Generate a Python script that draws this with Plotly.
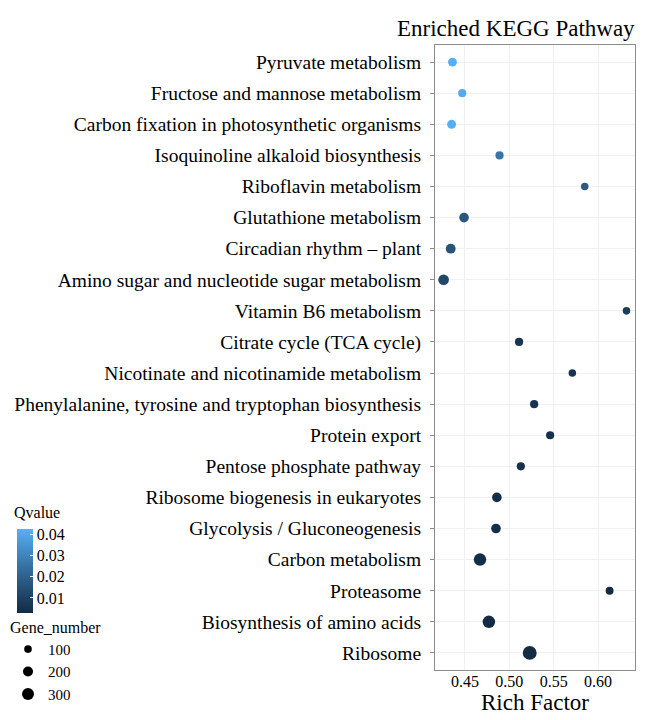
import numpy as np
import plotly.graph_objects as go

# ---------------- data (top -> bottom as in the chart) ----------------
pathways = [
    "Pyruvate metabolism",
    "Fructose and mannose metabolism",
    "Carbon fixation in photosynthetic organisms",
    "Isoquinoline alkaloid biosynthesis",
    "Riboflavin metabolism",
    "Glutathione metabolism",
    "Circadian rhythm – plant",
    "Amino sugar and nucleotide sugar metabolism",
    "Vitamin B6 metabolism",
    "Citrate cycle (TCA cycle)",
    "Nicotinate and nicotinamide metabolism",
    "Phenylalanine, tyrosine and tryptophan biosynthesis",
    "Protein export",
    "Pentose phosphate pathway",
    "Ribosome biogenesis in eukaryotes",
    "Glycolysis / Gluconeogenesis",
    "Carbon metabolism",
    "Proteasome",
    "Biosynthesis of amino acids",
    "Ribosome",
]
rich_factor = [0.436, 0.447, 0.435, 0.489, 0.585, 0.449, 0.434, 0.426, 0.632, 0.511,
               0.571, 0.528, 0.546, 0.513, 0.486, 0.485, 0.467, 0.613, 0.477, 0.523]
qvalue = [0.042, 0.041, 0.042, 0.026, 0.018, 0.017, 0.016, 0.012, 0.009, 0.006,
          0.006, 0.006, 0.005, 0.005, 0.004, 0.004, 0.004, 0.003, 0.003, 0.003]
gene_number = [150, 120, 150, 120, 95, 180, 190, 230, 95, 120,
               95, 120, 120, 120, 180, 180, 330, 110, 330, 420]
size_breaks = [100, 200, 300]
q_ticks = [0.01, 0.02, 0.03, 0.04]
x_ticks = [0.45, 0.50, 0.55, 0.60]

# ---------------- styling helpers ----------------
FONT = "Liberation Serif"

def size_px(n):
    # area-like size scale (ggplot style)
    return float(np.sqrt(17 + 0.42 * n))

def srgb_to_lab(hexc):
    r, g, b = [int(hexc[i:i + 2], 16) / 255 for i in (1, 3, 5)]
    def lin(c):
        return c / 12.92 if c <= 0.04045 else ((c + 0.055) / 1.055) ** 2.4
    r, g, b = lin(r), lin(g), lin(b)
    X = (0.4124 * r + 0.3576 * g + 0.1805 * b) / 0.95047
    Y = (0.2126 * r + 0.7152 * g + 0.0722 * b)
    Z = (0.0193 * r + 0.1192 * g + 0.9505 * b) / 1.08883
    def f(t):
        return t ** (1 / 3) if t > 0.008856 else 7.787 * t + 16 / 116
    fx, fy, fz = f(X), f(Y), f(Z)
    return 116 * fy - 16, 500 * (fx - fy), 200 * (fy - fz)

def lab_to_srgb(L, a, bb):
    fy = (L + 16) / 116
    fx = fy + a / 500
    fz = fy - bb / 200
    def finv(t):
        return t ** 3 if t ** 3 > 0.008856 else (t - 16 / 116) / 7.787
    X, Y, Z = finv(fx) * 0.95047, finv(fy), finv(fz) * 1.08883
    r = 3.2406 * X - 1.5372 * Y - 0.4986 * Z
    g = -0.9689 * X + 1.8758 * Y + 0.0415 * Z
    b = 0.0557 * X - 0.2040 * Y + 1.0570 * Z
    def gam(c):
        c = c * 12.92 if c <= 0.0031308 else 1.055 * c ** (1 / 2.4) - 0.055
        return int(round(min(max(c, 0), 1) * 255))
    return "rgb(%d,%d,%d)" % (gam(r), gam(g), gam(b))

low, high = srgb_to_lab("#132B43"), srgb_to_lab("#56B1F7")
colorscale = []
for t in np.linspace(0, 1, 11):
    colorscale.append([float(t), lab_to_srgb(*[low[i] + (high[i] - low[i]) * t for i in range(3)])])

# page body has an 8px margin, so the figure is 8px smaller than the window
W, H = 641, 712
L_, R_, T_, B_ = 427, 14, 37, 50
PW, PH = W - L_ - R_, H - T_ - B_

def px_x(x):
    return (x - L_) / PW

def px_y(y):
    return 1 - (y - T_) / PH

fig = go.Figure()
fig.add_trace(go.Scatter(
    x=rich_factor, y=pathways, mode="markers", showlegend=False,
    marker=dict(
        size=[size_px(n) for n in gene_number], opacity=1,
        color=qvalue, colorscale=colorscale, cmin=0.0029, cmax=0.0424,
        line=dict(width=0),
        colorbar=dict(
            xref="container", x=9 / W, xanchor="left", xpad=0,
            yref="paper", y=px_y(521), yanchor="top", ypad=0,
            len=84, lenmode="pixels", thickness=16, outlinewidth=0,
            tickvals=q_ticks, ticktext=["%.2f" % v for v in q_ticks],
            ticks="inside", ticklen=3, tickcolor="white",
            tickfont=dict(family=FONT, size=16, color="black"),
        ),
    ),
))

for b in size_breaks:
    fig.add_trace(go.Scatter(
        x=[None], y=[None], mode="markers", name=str(b), showlegend=True,
        marker=dict(size=size_px(b), color="black"),
    ))

fig.update_layout(
    width=W, height=H,
    margin=dict(l=L_, r=R_, t=T_, b=B_, autoexpand=False),
    paper_bgcolor="white", plot_bgcolor="white",
    font=dict(family=FONT, color="black"),
    legend=dict(
        title=dict(text="Gene_number", font=dict(family=FONT, size=16, color="black")),
        xref="container", x=0, xanchor="left",
        yref="container", y=1 - 604 / H, yanchor="top",
        font=dict(family=FONT, size=15, color="black"),
        itemsizing="trace", tracegroupgap=0, itemwidth=30,
        bgcolor="rgba(0,0,0,0)",
    ),
    xaxis=dict(
        range=[0.4163, 0.6416], tickvals=x_ticks, ticktext=["%.2f" % v for v in x_ticks],
        showgrid=True, gridcolor="#f1f1f1", gridwidth=1,
        showline=True, linecolor="#8c8c8c", linewidth=1, mirror=True,
        ticks="", zeroline=False, automargin=False, ticklabelstandoff=-3,
        tickfont=dict(family=FONT, size=16, color="black"),
        title=dict(text="Rich Factor", font=dict(family=FONT, size=23, color="black"), standoff=2),
    ),
    yaxis=dict(
        type="category", categoryorder="array", categoryarray=pathways[::-1],
        range=[-0.55, 19.55], automargin=False,
        showgrid=True, gridcolor="#f1f1f1", gridwidth=1,
        showline=True, linecolor="#8c8c8c", linewidth=1, mirror=True,
        ticks="outside", ticklen=4, tickcolor="#8c8c8c", ticklabelstandoff=5,
        tickfont=dict(family=FONT, size=19.5, color="black"),
    ),
    annotations=[
        dict(text="Enriched KEGG Pathway", xref="paper", yref="paper",
             x=px_x(508), y=px_y(20), xanchor="center", yanchor="middle",
             showarrow=False, font=dict(family=FONT, size=23, color="black")),
        dict(text="Qvalue", xref="paper", yref="paper",
             x=px_x(4), y=px_y(504), xanchor="left", yanchor="middle",
             showarrow=False, font=dict(family=FONT, size=16, color="black")),
    ],
)

fig.write_html("out.html")
